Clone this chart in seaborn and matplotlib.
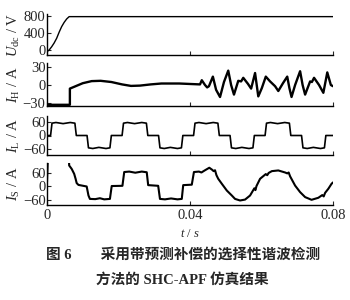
import matplotlib
matplotlib.use("Agg")
import matplotlib.pyplot as plt
import seaborn as sns
import pandas as pd

# ---------------- data ----------------
t_udc = [0.0, 0.0006, 0.0013, 0.0020, 0.0027, 0.0034, 0.0041, 0.0048, 0.0055, 0.0062, 0.0800]
v_udc = [-40, 0, 75, 165, 275, 420, 550, 650, 730, 785, 785]

t_ih = [0.0, 0.0064, 0.0064, 0.0080, 0.0100, 0.0125, 0.0150, 0.0180, 0.0210, 0.0235, 0.0260,
        0.0290, 0.0320, 0.0370, 0.0428,
        0.0433, 0.0442, 0.0448, 0.0453, 0.0464, 0.0473, 0.0484, 0.0495, 0.0507, 0.0515,
        0.0523, 0.0535, 0.0543, 0.0549, 0.0562, 0.0571, 0.0582, 0.0591, 0.0601, 0.0612,
        0.0624, 0.0638, 0.0647, 0.0660, 0.0672, 0.0678, 0.0684, 0.0694, 0.0708, 0.0715,
        0.0722, 0.0736, 0.0741, 0.0747, 0.0761, 0.0773, 0.0784, 0.0794, 0.0800]
v_ih = [-33, -33, -6, -2, 3, 6.5, 7, 5, 1, -1.5, -1,
        1, 2.5, 2.5, 1,
        8, 0, -4, -2, 14, -8, -20, 5, 24, 0,
        -16, 7, 6, 12, 2, -6, 20, -19, -5, 14,
        6, -2, -10, 3, 14, -5, -20, 0, 23, 0,
        -16, 6, 5, 12, 0, -13, 21, 0, -2]

t_il = [0.0000, 0.0010, 0.0014, 0.0025, 0.0045, 0.0065, 0.0078, 0.0082, 0.0112, 0.0116, 0.0128, 0.0145, 0.0165, 0.0176, 0.0180,
        0.0210, 0.0214, 0.0225, 0.0245, 0.0265, 0.0278, 0.0282, 0.0312, 0.0316, 0.0328, 0.0345, 0.0365, 0.0376, 0.0380,
        0.0410, 0.0414, 0.0425, 0.0445, 0.0465, 0.0478, 0.0482, 0.0512, 0.0516, 0.0528, 0.0545, 0.0565, 0.0576, 0.0580,
        0.0610, 0.0614, 0.0625, 0.0645, 0.0665, 0.0678, 0.0682, 0.0712, 0.0716, 0.0728, 0.0745, 0.0765, 0.0776, 0.0780,
        0.0800]
v_il = [0, 0, 55, 58, 53, 58, 55, 0, 0, -55, -58, -53, -58, -55, 0,
        0, 55, 58, 53, 58, 55, 0, 0, -55, -58, -53, -58, -55, 0,
        0, 55, 58, 53, 58, 55, 0, 0, -55, -58, -53, -58, -55, 0,
        0, 55, 58, 53, 58, 55, 0, 0, -55, -58, -53, -58, -55, 0,
        0]

t_is = [0.0, 0.0003, 0.0061, 0.0062, 0.0069, 0.0076, 0.0080, 0.0083, 0.0088, 0.0111, 0.0116, 0.0120,
        0.0135, 0.0148, 0.0160, 0.0176, 0.0181, 0.0211, 0.0216, 0.0230, 0.0247, 0.0265, 0.0279,
        0.0283, 0.0311, 0.0316, 0.0330, 0.0347, 0.0365, 0.0377, 0.0381, 0.0405, 0.0411,
        0.0425, 0.0432, 0.0440, 0.0454, 0.0462, 0.0466, 0.0470, 0.0474, 0.0479, 0.0489,
        0.0503, 0.0517, 0.0526, 0.0540, 0.0554, 0.0568, 0.0580, 0.0583, 0.0586, 0.0596,
        0.0612, 0.0616, 0.0620, 0.0629, 0.0647, 0.0666, 0.0672, 0.0676, 0.0680, 0.0694,
        0.0708, 0.0722, 0.0740, 0.0759, 0.0770, 0.0774, 0.0778, 0.0787, 0.0796, 0.0800]
v_is = [20, 150, 150, 93, 78, 56, 34, 15, 7, 0, -40, -55,
        -56, -52, -57, -55, 2, 3, 64, 66, 61, 66, 63,
        6, 3, -55, -57, -53, -57, -55, 6, 8, 64,
        66, 62, 70, 83, 74, 68, 72, 50, 34, 12,
        -18, -40, -55, -62, -58, -40, -8, -16, 2, 34,
        55, 50, 60, 68, 71, 62, 58, 62, 45, 4,
        -25, -47, -59, -50, -38, -44, -28, -10, 12, 18]

panels = [
    (t_udc, v_udc, r"$U_{\mathrm{dc}}$ / V", [0, 400, 800], (-118, 847), 1.0),
    (t_ih, v_ih, r"$I_{\mathrm{H}}$ / A", [-30, 0, 30], (-35, 36.7), 1.7),
    (t_il, v_il, r"$I_{\mathrm{L}}$ / A", [-60, 0, 60], (-87, 87), 1.2),
    (t_is, v_is, r"$I_{\mathrm{S}}$ / A", [-60, 0, 60], (-82, 104), 1.5),
]
x_ticks = [0, 0.04, 0.08]
x_ticklabels = ["0", "0.04", "0.08"]

# ---------------- style ----------------
sns.set_style("ticks")
plt.rcParams["font.family"] = ["Liberation Serif", "Noto Sans CJK SC"]
plt.rcParams["mathtext.fontset"] = "custom"
plt.rcParams["mathtext.rm"] = "Liberation Serif"
plt.rcParams["mathtext.it"] = "Liberation Serif:italic"
plt.rcParams["xtick.direction"] = "in"
plt.rcParams["ytick.direction"] = "in"

fig = plt.figure(figsize=(3.5, 3.0), dpi=100)
fig.patch.set_facecolor("white")

boxes = [  # (top_px, bottom_px)
    (14, 55), (63, 106), (116, 155), (163, 205)
]
left, width = 47 / 350, 286 / 350

for i, ((tt, vv, lab, yt, yl, lw), (tp, bp)) in enumerate(zip(panels, boxes)):
    ax = fig.add_axes([left, 1 - bp / 300, width, (bp - tp) / 300])
    df = pd.DataFrame({"t": tt, "v": vv})
    sns.lineplot(data=df, x="t", y="v", ax=ax, color="black", linewidth=lw,
                 estimator=None, sort=False)
    ax.set_xlim(0, 0.08)
    ax.set_ylim(*yl)
    ax.set_yticks(yt)
    ax.set_yticklabels([str(v).replace("-", "\u2212") for v in yt], fontsize=10.5)
    ax.set_xticks(x_ticks)
    ax.tick_params(axis="both", length=3, width=0.8, pad=1)
    ax.set_ylabel(lab, fontsize=10.5, labelpad=0)
    ax.yaxis.set_label_coords(-0.088, 0.5)
    sns.despine(ax=ax)
    for s in ["left", "bottom"]:
        ax.spines[s].set_linewidth(1.0)
        ax.spines[s].set_color("black")
    ax.set_facecolor("white")
    if i < 3:
        ax.set_xticklabels([])
        ax.set_xlabel("")
    else:
        ax.set_xticklabels(x_ticklabels, fontsize=10.5)
        ax.tick_params(axis="x", pad=3)
        ax.set_xlabel(r"$t$ / $s$", fontsize=9, labelpad=4)

fig.text(0.523, 0.15, "图 6\u3000\u3000采用带预测补偿的选择性谐波检测",
         ha="center", va="center", fontsize=10.5, fontweight="bold",
         family=["Liberation Serif", "Noto Sans CJK SC"])
fig.text(0.522, 0.067, "方法的 SHC-APF 仿真结果",
         ha="center", va="center", fontsize=10.5, fontweight="bold",
         family=["Liberation Serif", "Noto Sans CJK SC"])

fig.savefig("out.png", dpi=100, facecolor="white")
